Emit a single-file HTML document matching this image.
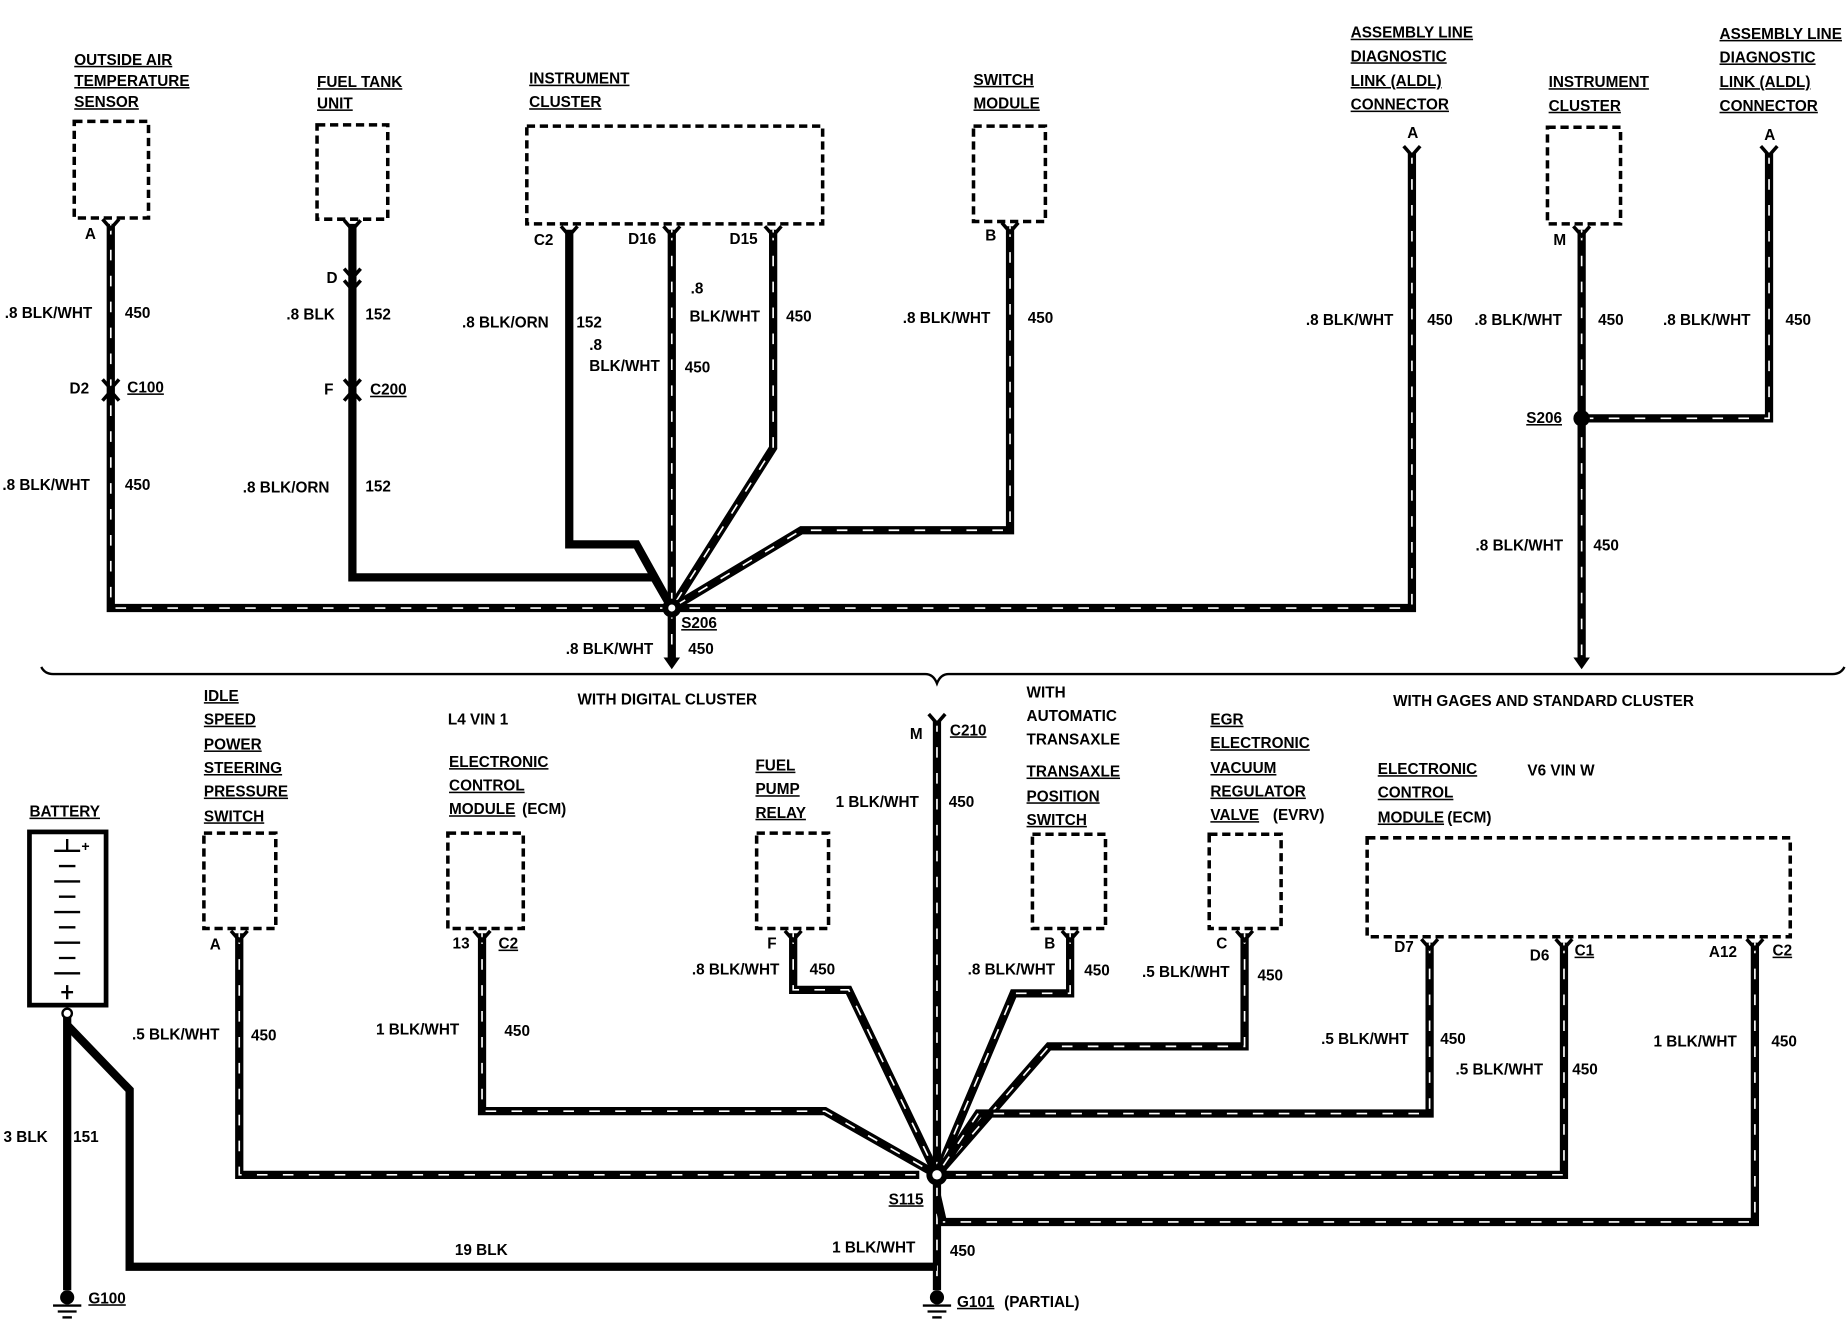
<!DOCTYPE html>
<html><head><meta charset="utf-8"><style>
html,body{margin:0;padding:0;background:#fff;}
svg{display:block;}
text{font-family:"Liberation Sans",sans-serif;font-weight:bold;font-size:13px;fill:#000;}
.u{text-decoration:underline;}
.w{fill:none;stroke:#000;stroke-width:7;stroke-linejoin:miter;}
.d{fill:none;stroke:#fff;stroke-width:1.4;stroke-dasharray:9 13;}
.s{fill:none;stroke:#000;stroke-width:7;stroke-linejoin:miter;}
.box{fill:none;stroke:#000;stroke-width:3;stroke-dasharray:7 4;}
.c{fill:none;stroke:#000;stroke-width:3;}
</style></head><body>
<svg width="1848" height="1328" viewBox="0 0 1568 1127" preserveAspectRatio="none" xmlns="http://www.w3.org/2000/svg">
<rect width="1568" height="1127" fill="#fff"/>
<!-- boxes -->
<rect class="box" x="63" y="103" width="63" height="82"/>
<rect class="box" x="269" y="106" width="60" height="80"/>
<rect class="box" x="447" y="107" width="251" height="83"/>
<rect class="box" x="826" y="107" width="61" height="81"/>
<rect class="box" x="1313" y="108" width="62" height="82"/>
<rect class="box" x="173" y="707" width="61" height="81"/>
<rect class="box" x="380" y="707" width="64" height="81"/>
<rect class="box" x="642" y="707" width="61" height="81"/>
<rect class="box" x="876" y="708" width="62" height="80"/>
<rect class="box" x="1026" y="708" width="61" height="80"/>
<rect class="box" x="1160" y="711" width="359" height="84"/>
<!-- battery -->
<rect x="25" y="706" width="65" height="147" fill="none" stroke="#000" stroke-width="4"/>
<g stroke="#000" stroke-width="2">
<line x1="57" y1="712" x2="57" y2="722"/><line x1="46" y1="722" x2="68" y2="722"/>
<line x1="50" y1="735" x2="64" y2="735"/><line x1="46" y1="748" x2="68" y2="748"/>
<line x1="50" y1="761" x2="64" y2="761"/><line x1="46" y1="774" x2="68" y2="774"/>
<line x1="50" y1="787" x2="64" y2="787"/><line x1="46" y1="800" x2="68" y2="800"/>
<line x1="50" y1="813" x2="64" y2="813"/><line x1="46" y1="826" x2="68" y2="826"/>
<line x1="57" y1="836" x2="57" y2="848"/><line x1="52" y1="842" x2="62" y2="842"/>
</g>
<text x="69" y="722" style="font-size:12px">+</text>
<!-- bracket -->
<path d="M35 566 Q38 572 45 572 L785 572 Q792 572 795 580 Q798 572 805 572 L1555 572 Q1562 572 1565 566" fill="none" stroke="#000" stroke-width="2"/>
<!-- wires -->
<g>
<polyline class="w" points="94,190 94,516 570,516"/><polyline class="d" points="94,190 94,516 570,516"/>
<polyline class="s" points="299,190 299,490 555,490 570,516"/>
<polyline class="s" points="483,195 483,462 540,462 570,516"/>
<polyline class="w" points="570,195 570,516"/><polyline class="d" points="570,195 570,516"/>
<polyline class="w" points="656,195 656,380 570,516"/><polyline class="d" points="656,195 656,380 570,516"/>
<polyline class="w" points="857,192 857,450 680,450 570,516"/><polyline class="d" points="857,192 857,450 680,450 570,516"/>
<polyline class="w" points="1198,130 1198,516 570,516"/><polyline class="d" points="1198,130 1198,516 570,516"/>
<polyline class="w" points="570,516 570,558"/><polyline class="d" points="570,516 570,558"/>
<polyline class="w" points="1342,195 1342,558"/><polyline class="d" points="1342,195 1342,558"/>
<polyline class="w" points="1501,130 1501,355 1342,355"/><polyline class="d" points="1501,130 1501,355 1342,355"/>
<!-- bottom -->
<polyline class="w" points="795,612 795,1095"/><polyline class="d" points="795,612 795,1095"/>
<polyline class="w" points="203,792 203,997 780,997"/><polyline class="d" points="203,792 203,997 780,997"/>
<polyline class="w" points="409,792 409,943 700,943 795,997"/><polyline class="d" points="409,792 409,943 700,943 795,997"/>
<polyline class="w" points="673,792 673,840 720,840 795,997"/><polyline class="d" points="673,792 673,840 720,840 795,997"/>
<polyline class="w" points="908,792 908,843 860,843 795,997"/><polyline class="d" points="908,792 908,843 860,843 795,997"/>
<polyline class="w" points="1056,792 1056,888 890,888 795,997"/><polyline class="d" points="1056,792 1056,888 890,888 795,997"/>
<polyline class="w" points="1213,800 1213,945 830,945 795,997"/><polyline class="d" points="1213,800 1213,945 830,945 795,997"/>
<polyline class="w" points="1327,800 1327,997 795,997"/><polyline class="d" points="1327,800 1327,997 795,997"/>
<polyline class="w" points="1489,800 1489,1037 800,1037 795,1015"/><polyline class="d" points="1489,800 1489,1037 800,1037"/>
<polyline class="s" points="57,858 57,1095"/>
<polyline class="s" points="57,870 110,925 110,1075 795,1075"/>
</g>
<!-- dots -->
<circle cx="570" cy="516" r="8"/><circle cx="570" cy="516" r="3" fill="#fff"/>
<circle cx="1342" cy="355" r="7"/>
<circle cx="795" cy="997" r="9"/><circle cx="795" cy="997" r="4" fill="#fff"/>
<circle cx="57" cy="860" r="4" fill="#fff" stroke="#000" stroke-width="2"/>
<!-- arrows -->
<path d="M563 558 L577 558 L570 568 Z"/><path d="M1335 558 L1349 558 L1342 568 Z"/>
<!-- connectors -->
<g class="c">
<path d="M87 186 L94 194 L101 186"/><path d="M292 187 L299 195 L306 187"/>
<path d="M292 228 L299 236 L306 228 M292 238 L299 246 L306 238"/>
<path d="M87 322 L94 330 L101 322 M87 340 L94 332 L101 340"/>
<path d="M292 322 L299 330 L306 322 M292 340 L299 332 L306 340"/>
<path d="M476 192 L483 200 L490 192"/><path d="M563 192 L570 200 L577 192"/><path d="M649 192 L656 200 L663 192"/>
<path d="M850 189 L857 197 L864 189"/><path d="M1191 124 L1198 132 L1205 124"/>
<path d="M1335 192 L1342 200 L1349 192"/><path d="M1494 124 L1501 132 L1508 124"/>
<path d="M196 790 L203 798 L210 790"/><path d="M402 790 L409 798 L416 790"/><path d="M666 790 L673 798 L680 790"/>
<path d="M901 790 L908 798 L915 790"/><path d="M1049 790 L1056 798 L1063 790"/>
<path d="M1206 797 L1213 805 L1220 797"/><path d="M1320 797 L1327 805 L1334 797"/><path d="M1482 797 L1489 805 L1496 797"/>
<path d="M788 606 L795 614 L802 606"/>
</g>
<!-- grounds -->
<g stroke="#000" stroke-width="2">
<circle cx="57" cy="1101" r="5"/><line x1="45" y1="1108" x2="69" y2="1108"/><line x1="49" y1="1113" x2="65" y2="1113"/><line x1="53" y1="1118" x2="61" y2="1118"/>
<circle cx="795" cy="1101" r="5"/><line x1="783" y1="1108" x2="807" y2="1108"/><line x1="787" y1="1113" x2="803" y2="1113"/><line x1="791" y1="1118" x2="799" y2="1118"/>
</g>
<!-- titles -->
<g class="u">
<text x="63" y="55">OUTSIDE AIR</text><text x="63" y="73">TEMPERATURE</text><text x="63" y="91">SENSOR</text>
<text x="269" y="74">FUEL TANK</text><text x="269" y="92">UNIT</text>
<text x="449" y="71">INSTRUMENT</text><text x="449" y="91">CLUSTER</text>
<text x="826" y="72">SWITCH</text><text x="826" y="92">MODULE</text>
<text x="1146" y="32">ASSEMBLY LINE</text><text x="1146" y="52">DIAGNOSTIC</text><text x="1146" y="73">LINK (ALDL)</text><text x="1146" y="93">CONNECTOR</text>
<text x="1314" y="74">INSTRUMENT</text><text x="1314" y="94">CLUSTER</text>
<text x="1459" y="33">ASSEMBLY LINE</text><text x="1459" y="53">DIAGNOSTIC</text><text x="1459" y="74">LINK (ALDL)</text><text x="1459" y="94">CONNECTOR</text>
<text x="173" y="595">IDLE</text><text x="173" y="615">SPEED</text><text x="173" y="636">POWER</text><text x="173" y="656">STEERING</text><text x="173" y="676">PRESSURE</text><text x="173" y="697">SWITCH</text>
<text x="381" y="651">ELECTRONIC</text><text x="381" y="671">CONTROL</text><text x="381" y="691">MODULE</text>
<text x="641" y="654">FUEL</text><text x="641" y="674">PUMP</text><text x="641" y="694">RELAY</text>
<text x="871" y="659">TRANSAXLE</text><text x="871" y="680">POSITION</text><text x="871" y="700">SWITCH</text>
<text x="1027" y="615">EGR</text><text x="1027" y="635">ELECTRONIC</text><text x="1027" y="656">VACUUM</text><text x="1027" y="676">REGULATOR</text><text x="1027" y="696">VALVE</text>
<text x="1169" y="657">ELECTRONIC</text><text x="1169" y="677">CONTROL</text><text x="1169" y="698">MODULE</text>
<text x="25" y="693">BATTERY</text>
<text x="108" y="333">C100</text><text x="314" y="335">C200</text><text x="578" y="533">S206</text><text x="1295" y="359">S206</text>
<text x="806" y="624">C210</text><text x="423" y="805">C2</text><text x="1336" y="811">C1</text><text x="1504" y="811">C2</text>
<text x="754" y="1022">S115</text><text x="75" y="1106">G100</text><text x="812" y="1109">G101</text>
</g>
<text x="443" y="691">(ECM)</text><text x="1080" y="696">(EVRV)</text><text x="1228" y="698">(ECM)</text>
<text x="852" y="1109">(PARTIAL)</text>
<text x="871" y="592">WITH</text><text x="871" y="612">AUTOMATIC</text><text x="871" y="632">TRANSAXLE</text>
<text x="380" y="615">L4 VIN 1</text><text x="1296" y="658">V6 VIN W</text>
<text x="490" y="598">WITH DIGITAL CLUSTER</text><text x="1182" y="599">WITH GAGES AND STANDARD CLUSTER</text>
<!-- pins -->
<text x="72" y="203">A</text><text x="277" y="240">D</text><text x="59" y="334">D2</text><text x="275" y="335">F</text>
<text x="453" y="208">C2</text><text x="533" y="207">D16</text><text x="619" y="207">D15</text><text x="836" y="204">B</text>
<text x="1194" y="117">A</text><text x="1318" y="208">M</text><text x="1497" y="119">A</text>
<text x="178" y="806">A</text><text x="384" y="805">13</text><text x="651" y="805">F</text><text x="886" y="805">B</text><text x="1032" y="805">C</text>
<text x="1183" y="808">D7</text><text x="1298" y="815">D6</text><text x="1450" y="812">A12</text><text x="772" y="627">M</text>
<!-- wire labels -->
<text x="4" y="270">.8 BLK/WHT</text><text x="106" y="270">450</text>
<text x="243" y="271">.8 BLK</text><text x="310" y="271">152</text>
<text x="2" y="416">.8 BLK/WHT</text><text x="106" y="416">450</text>
<text x="206" y="418">.8 BLK/ORN</text><text x="310" y="417">152</text>
<text x="392" y="278">.8 BLK/ORN</text><text x="489" y="278">152</text>
<text x="500" y="297">.8</text><text x="500" y="315">BLK/WHT</text><text x="581" y="316">450</text>
<text x="586" y="249">.8</text><text x="585" y="273">BLK/WHT</text><text x="667" y="273">450</text>
<text x="766" y="274">.8 BLK/WHT</text><text x="872" y="274">450</text>
<text x="1108" y="276">.8 BLK/WHT</text><text x="1211" y="276">450</text>
<text x="1251" y="276">.8 BLK/WHT</text><text x="1356" y="276">450</text>
<text x="1411" y="276">.8 BLK/WHT</text><text x="1515" y="276">450</text>
<text x="1252" y="467">.8 BLK/WHT</text><text x="1352" y="467">450</text>
<text x="480" y="555">.8 BLK/WHT</text><text x="584" y="555">450</text>
<text x="709" y="685">1 BLK/WHT</text><text x="805" y="685">450</text>
<text x="112" y="882">.5 BLK/WHT</text><text x="213" y="883">450</text>
<text x="319" y="878">1 BLK/WHT</text><text x="428" y="879">450</text>
<text x="587" y="827">.8 BLK/WHT</text><text x="687" y="827">450</text>
<text x="821" y="827">.8 BLK/WHT</text><text x="920" y="828">450</text>
<text x="969" y="829">.5 BLK/WHT</text><text x="1067" y="832">450</text>
<text x="1121" y="886">.5 BLK/WHT</text><text x="1222" y="886">450</text>
<text x="1235" y="912">.5 BLK/WHT</text><text x="1334" y="912">450</text>
<text x="1403" y="888">1 BLK/WHT</text><text x="1503" y="888">450</text>
<text x="3" y="969">3 BLK</text><text x="62" y="969">151</text>
<text x="386" y="1065">19 BLK</text>
<text x="706" y="1063">1 BLK/WHT</text><text x="806" y="1066">450</text>
</svg>
</body></html>
